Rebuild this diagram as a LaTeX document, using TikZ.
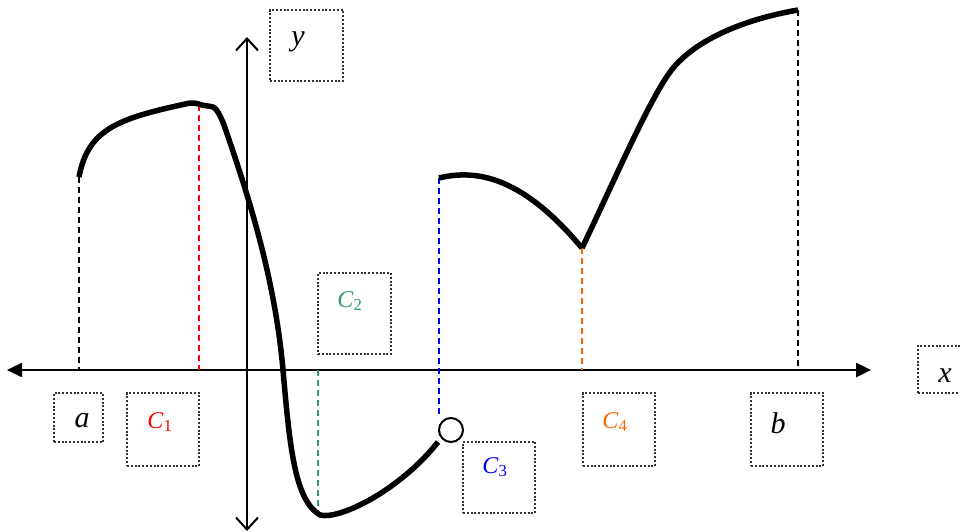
\documentclass[tikz,border=0pt]{standalone}
\usepackage{fontspec}
\setmainfont{Liberation Serif}
\usetikzlibrary{arrows.meta}
\definecolor{cgreen}{HTML}{339966}
\definecolor{corange}{HTML}{FF6600}
\tikzset{
  lbox/.style={draw=black!80,line width=2pt,dash pattern=on 2pt off 1.8pt,inner sep=0pt},
  guide/.style={line width=1.8pt,dash pattern=on 6pt off 4pt},
  curve/.style={line width=5.5pt,line join=round},
  big/.style={font=\fontsize{30}{34}\selectfont\itshape},
  small/.style={font=\fontsize{24}{28}\selectfont}
}
\newcommand{\Cs}[1]{\textit{C}\textsubscript{#1}}
\begin{document}
\begin{tikzpicture}[x=1pt,y=-1pt]
  \useasboundingbox (0,0) rectangle (960,531);
  % axes
  \coordinate (xl) at (7,370); \coordinate (xr) at (871,370);
  \coordinate (yt) at (247,37); \coordinate (yb) at (247,531);
  \draw[line width=2.5pt,{Triangle[length=15pt,width=14pt]}-{Triangle[length=15pt,width=14pt]}] (xl) -- (xr);
  \draw[line width=2pt,{Straight Barb[length=12pt,width=22pt]}-{Straight Barb[length=12pt,width=22pt]}] (yb) -- (yt);
  % points on the graph
  \coordinate (pa) at (79,177); \coordinate (pc1) at (199,105);
  \coordinate (pc2) at (318,514); \coordinate (pc3) at (439,178);
  \coordinate (pc4) at (582,248); \coordinate (pb) at (798,10);
  \node[circle,draw,line width=2pt,fill=white,minimum size=24pt,inner sep=0pt] (hole) at (451,430) {};
  % dashed guides
  \draw[guide] (pa) -- (pa |- xl);
  \draw[guide,red] (pc1) -- (pc1 |- xl);
  \draw[guide,cgreen] (pc2 |- xl) -- (pc2);
  \draw[guide,blue] (pc3) -- (pc3 |- hole.north);
  \draw[guide,corange] (pc4) -- (pc4 |- xl);
  \draw[guide] (pb) -- (pb |- xl);
  % the function
  \draw[curve] (pa) .. controls (88,128) and (120,118) .. (190,103)
    .. controls (197,102) and (201,106) .. (208,106)
    .. controls (215,106) and (218,110) .. (224,125)
    .. controls (250,200) and (275,280) .. (283,370)
    .. controls (290,450) and (295,500) .. (320,515)
    .. controls (340,520) and (400,490) .. (438,442);
  \draw[curve] (pc3) .. controls (480,168) and (525,180) .. (pc4);
  \draw[curve] (pc4) .. controls (610,190) and (648,102) .. (670,72)
    .. controls (692,42) and (740,20) .. (pb);
  % label boxes
  \foreach \n/\x/\y/\w/\h in {y/306.5/45.5/73/71, x/942.5/369.5/49/47, a/78.5/417.5/49/49,
      c1/163/429.5/72/73, c2/354.5/313.5/73/81, c3/499/477.5/72/71,
      c4/619/429.5/72/73, b/787/429.5/72/73}
    \node[lbox,minimum width=\w,minimum height=\h] (box\n) at (\x,\y) {};
  \node[big] (ty) at (298,42) {y};
  \node[big] (tx) at (945,376) {x};
  \node[big] (ta) at (82,421) {a};
  \node[big] (tb) at (778,423) {b};
  \node[small,red] (tc1) at (160,422) {\Cs{1}};
  \node[small,cgreen] (tc2) at (350,301) {\Cs{2}};
  \node[small,blue] (tc3) at (495,467) {\Cs{3}};
  \node[small,corange] (tc4) at (615,422) {\Cs{4}};
\end{tikzpicture}
\end{document}
